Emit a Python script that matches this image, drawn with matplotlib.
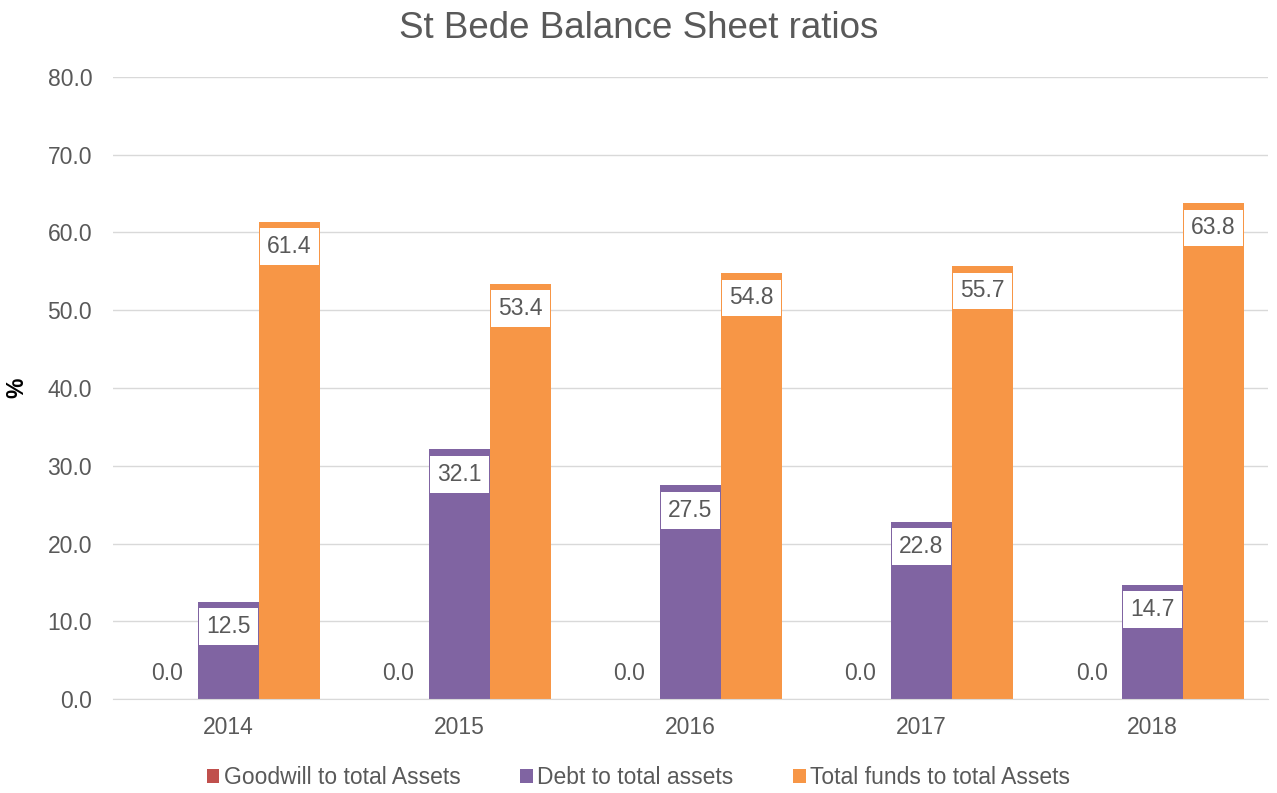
import matplotlib
matplotlib.use('Agg')
import matplotlib.pyplot as plt
import numpy as np

years = ['2014', '2015', '2016', '2017', '2018']
series_names = ['Goodwill to total Assets', 'Debt to total assets', 'Total funds to total Assets']
goodwill = [0.0, 0.0, 0.0, 0.0, 0.0]
debt = [12.5, 32.1, 27.5, 22.8, 14.7]
total_funds = [61.4, 53.4, 54.8, 55.7, 63.8]
colors = ['#C0504D', '#8064A2', '#F79646']

plt.rcParams['font.family'] = ['Liberation Sans', 'DejaVu Sans']
txt = '#595959'

fig = plt.figure(figsize=(12.77, 7.93), dpi=100)
ax = fig.add_axes([0.0885, 0.1185, 0.9045, 0.7845])

x = np.arange(len(years))
w = 0.264
for k, (vals, c, name) in enumerate(zip([goodwill, debt, total_funds], colors, series_names)):
    xs = x + (k - 1) * w
    ax.bar(xs, vals, width=w, color=c, label=name, zorder=2)
    for xi, v in zip(xs, vals):
        if v == 0:
            ax.annotate(f'{v:.1f}', (xi, v), xytext=(0, 18.5), textcoords='offset points',
                        ha='center', va='center', fontsize=16.5, color=txt, zorder=3)
        else:
            ax.annotate(f'{v:.1f}', (xi, v), xytext=(0, -18), textcoords='offset points',
                        ha='center', va='center', fontsize=16.5, color=txt, zorder=3,
                        bbox=dict(boxstyle='square,pad=0.3', fc='white', ec='none'))

ax.set_xlim(-0.5, len(years) - 0.5)
ax.set_ylim(0, 80)
ax.set_yticks(np.arange(0, 81, 10))
ax.set_yticklabels([f'{t:.1f}' for t in np.arange(0, 81, 10)])
ax.set_xticks(x)
ax.set_xticklabels(years)
ax.tick_params(axis='both', length=0, labelsize=16.5, colors=txt)
ax.tick_params(axis='y', pad=15)
ax.tick_params(axis='x', pad=12)
ax.grid(axis='y', color='#D9D9D9', linewidth=1, zorder=0)
for s in ['top', 'right', 'left']:
    ax.spines[s].set_visible(False)
ax.spines['bottom'].set_color('#D9D9D9')
ax.set_ylabel('%', fontsize=16.5, fontweight='bold', color='black', labelpad=14)

fig.text(0.5, 0.964, 'St Bede Balance Sheet ratios', fontsize=26.5, color=txt,
         ha='center', va='center')

fig.legend(loc='center', bbox_to_anchor=(0.5, 0.019), ncol=3, frameon=False,
           fontsize=16.5, labelcolor=txt, handlelength=0.55, handleheight=0.55,
           handletextpad=0.2, columnspacing=2.6)

fig.savefig('out.png', dpi=100)
